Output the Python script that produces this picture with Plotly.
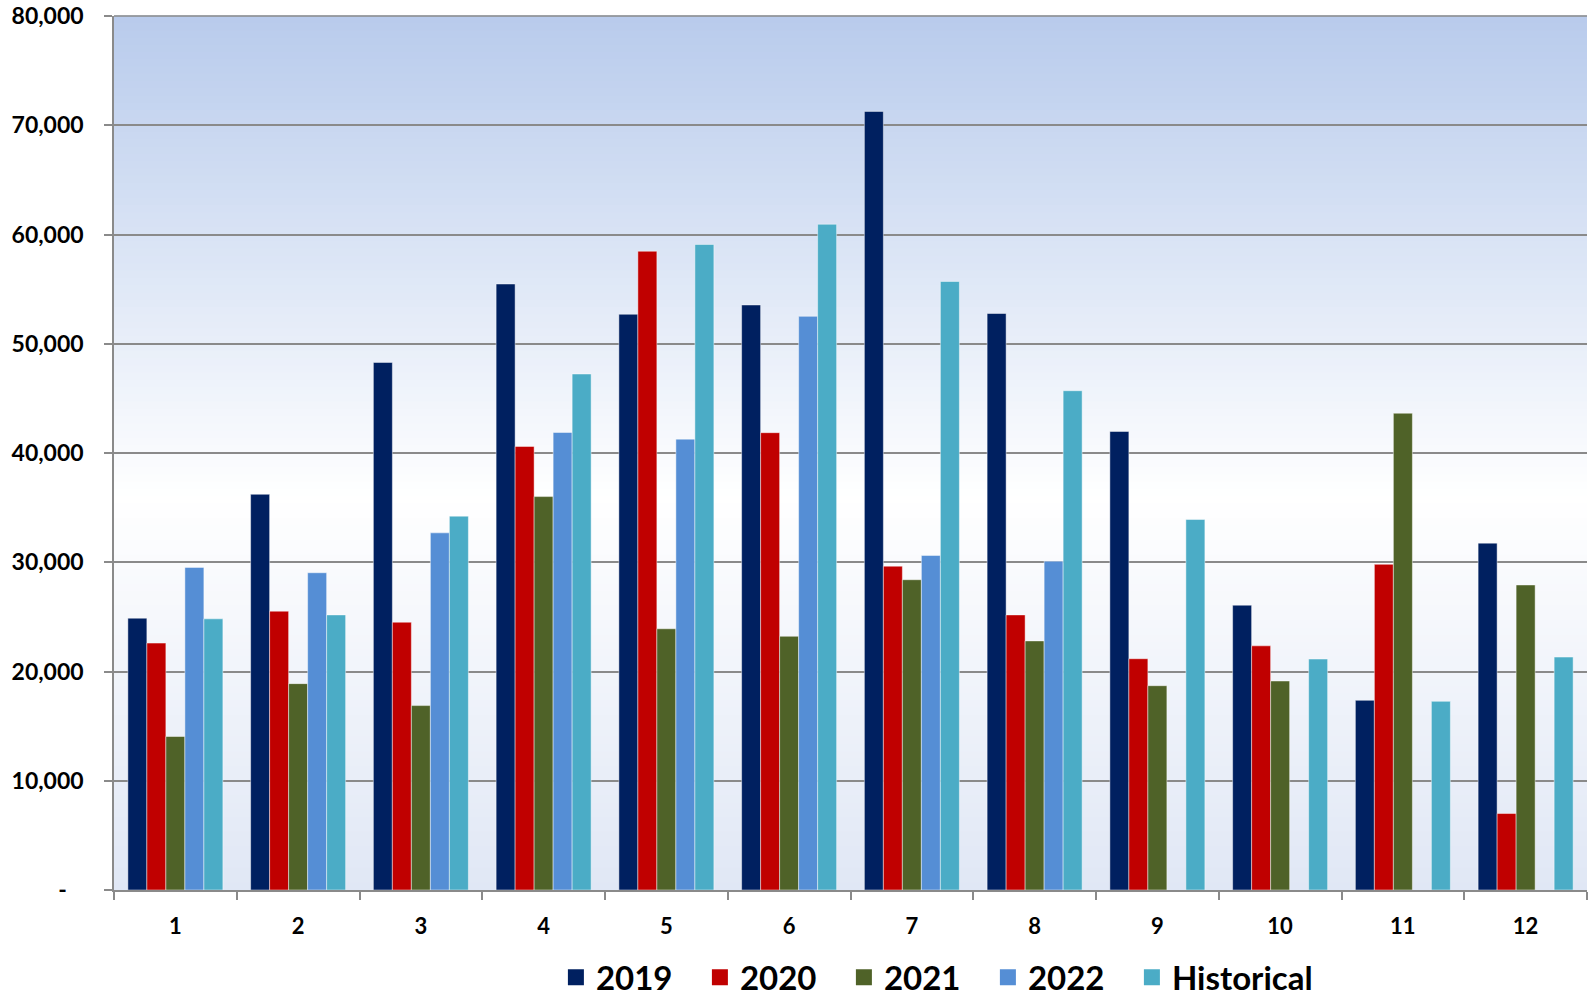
import plotly.graph_objects as go

months = ["1", "2", "3", "4", "5", "6", "7", "8", "9", "10", "11", "12"]
v2019 = [24880, 36220, 48290, 55470, 52700, 53550, 71270, 52770, 41970, 26070, 17360, 31750]
v2020 = [22600, 25520, 24510, 40600, 58470, 41860, 29640, 25180, 21170, 22350, 29810, 7000]
v2021 = [14050, 18890, 16880, 36010, 23910, 23220, 28400, 22800, 18700, 19130, 43640, 27920]
v2022 = [29530, 29040, 32690, 41880, 41270, 52510, 30620, 30100, None, None, None, None]
historical = [24820, 25180, 34220, 47230, 59090, 60940, 55700, 45700, 33910, 21140, 17270, 21320]

series_names = ["2019", "2020", "2021", "2022", "Historical"]
series_values = [v2019, v2020, v2021, v2022, historical]
series_colors = ["#002060", "#C00000", "#4F6228", "#558ED5", "#4BACC6"]

y_tickvals = [0, 10000, 20000, 30000, 40000, 50000, 60000, 70000, 80000]
y_ticktext = ["-\u00a0\u00a0\u00a0", "10,000", "20,000", "30,000", "40,000", "50,000", "60,000", "70,000", "80,000"]

FONT = "Lato"
GRID = "#8a8a8a"

fig = go.Figure()
for name, vals, col in zip(series_names, series_values, series_colors):
    fig.add_trace(go.Bar(
        x=months, y=vals, name=name, showlegend=False,
        marker=dict(color=col, line=dict(color="rgba(255,255,255,0.45)", width=1)),
    ))
# legend entries with larger square swatches
for name, col in zip(series_names, series_colors):
    fig.add_trace(go.Scatter(
        x=[None], y=[None], name=name, mode="markers",
        marker=dict(symbol="square", size=21, color=col),
        showlegend=True, hoverinfo="skip",
    ))
# blank spacer entry so the last label is not clipped by the fixed entry width
fig.add_trace(go.Scatter(
    x=[None], y=[None], name="\u00a0", mode="markers",
    marker=dict(symbol="square", size=21, color="rgba(0,0,0,0)"),
    showlegend=True, hoverinfo="skip",
))

# vertical background gradient (styling only)
def lerp(c1, c2, t):
    return tuple(round(a + (b - a) * t) for a, b in zip(c1, c2))

stops = [(0.0, (184, 203, 236)), (0.55, (255, 255, 255)), (1.0, (224, 231, 245))]
n = 120
shapes = []
for i in range(n):
    f = (i + 0.5) / n  # fraction from top
    for j in range(len(stops) - 1):
        if stops[j][0] <= f <= stops[j + 1][0]:
            t = (f - stops[j][0]) / (stops[j + 1][0] - stops[j][0])
            c = lerp(stops[j][1], stops[j + 1][1], t)
            break
    y1 = 1 - i / n
    y0 = 1 - (i + 1) / n
    shapes.append(dict(type="rect", xref="paper", yref="paper", x0=0, x1=1,
                       y0=y0 - 0.0005, y1=y1 + 0.0005, layer="below",
                       line=dict(width=0), fillcolor="rgb(%d,%d,%d)" % c))
# top gridline at the range end
shapes.append(dict(type="line", xref="paper", yref="paper", x0=0, x1=1, y0=1, y1=1,
                   layer="between", line=dict(color=GRID, width=1.5)))

fig.update_layout(
    width=1590, height=996,
    margin=dict(l=114, r=3, t=16, b=106, autoexpand=False),
    paper_bgcolor="white",
    plot_bgcolor="rgba(0,0,0,0)",
    barmode="group",
    bargap=0.226,
    bargroupgap=0,
    shapes=shapes,
    font=dict(family=FONT, color="black"),
    legend=dict(
        orientation="h",
        x=0.300, xanchor="left",
        y=-0.100, yanchor="middle",
        font=dict(family=FONT, size=33, weight="bold", color="black"),
        entrywidth=99, entrywidthmode="pixels",
        itemsizing="trace",
        bgcolor="rgba(0,0,0,0)",
        traceorder="normal",
    ),
    xaxis=dict(
        type="category", automargin=False,
        showline=True, linecolor=GRID, linewidth=1.5,
        ticks="outside", ticklen=8, tickwidth=1.5, tickcolor=GRID,
        tickson="boundaries",
        showgrid=False,
        tickfont=dict(family=FONT, size=22, weight="bold", color="black"),
        ticklabelstandoff=16,
    ),
    yaxis=dict(
        range=[0, 80000], automargin=False,
        tickvals=y_tickvals, ticktext=y_ticktext,
        showline=True, linecolor=GRID, linewidth=1.5,
        ticks="outside", ticklen=8, tickwidth=1.5, tickcolor=GRID,
        showgrid=True, gridcolor=GRID, gridwidth=1.5,
        zeroline=False,
        ticklabeloverflow="allow",
        tickfont=dict(family=FONT, size=23, weight="bold", color="black"),
        ticklabelstandoff=16,
    ),
)

fig.write_html("out.html", config={"displayModeBar": False},
               post_script="document.body.style.margin='0';document.body.style.overflow='hidden';")
